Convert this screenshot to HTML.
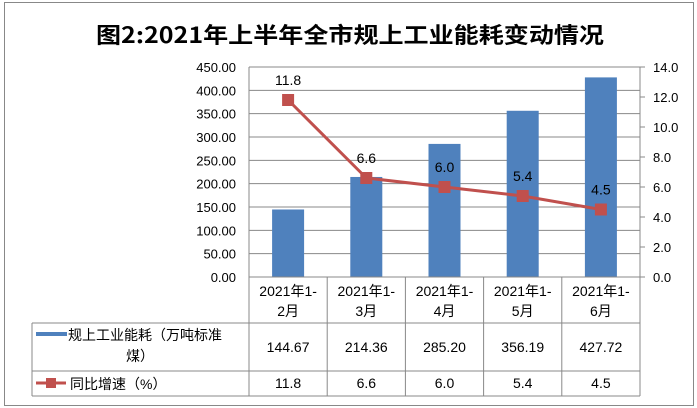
<!DOCTYPE html>
<html><head><meta charset="utf-8"><style>
body{margin:0;background:#fff}
svg{display:block;font-family:"Liberation Sans","Noto Sans CJK SC",sans-serif}
</style></head><body>
<svg id="c" width="697" height="408" viewBox="0 0 697 408">
<rect x="4.5" y="2.5" width="689" height="403" fill="#fff" stroke="#888"/>
<text x="350" y="43" text-anchor="middle" font-size="22" font-weight="bold" textLength="508" lengthAdjust="spacingAndGlyphs" font-family="'Noto Sans CJK SC',sans-serif">图2:2021年上半年全市规上工业能耗变动情况</text>
<g id="g"></g>
</svg>
<script>
const categories=["2021年1-2月","2021年1-3月","2021年1-4月","2021年1-5月","2021年1-6月"];
const catLine1=["2021年1-","2021年1-","2021年1-","2021年1-","2021年1-"];
const catLine2=["2月","3月","4月","5月","6月"];
const energy=[144.67,214.36,285.20,356.19,427.72];
const growth=[11.8,6.6,6.0,5.4,4.5];
const leftTicks=[0,50,100,150,200,250,300,350,400,450];
const rightTicks=[0,2,4,6,8,10,12,14];
const NS="http://www.w3.org/2000/svg",g=document.getElementById('g');
const X0=249,X1=640,Y0=277,Y1=67,cw=(X1-X0)/categories.length;
const yl=v=>Y0-(v/450)*(Y0-Y1), yr=v=>Y0-(v/14)*(Y0-Y1), xc=i=>X0+cw*(i+.5);
function el(t,a,txt){const e=document.createElementNS(NS,t);for(const k in a)e.setAttribute(k,a[k]);if(txt!=null)e.textContent=txt;g.appendChild(e);return e;}
leftTicks.forEach(v=>{
 const l=el('line',{x1:X0,x2:X1,y1:yl(v),y2:yl(v),stroke:'#888'});
 
 const t=el('text',{x:236,y:yl(v)+5,'text-anchor':'end','font-size':13},v.toFixed(2));
 
});
rightTicks.forEach(v=>{
 const l=el('line',{x1:X1,x2:X1+5,y1:yr(v),y2:yr(v),stroke:'#888'});
 
 const t=el('text',{x:653,y:yr(v)+5,'font-size':13},v.toFixed(1));
 
});
const ax=el('line',{x1:X1,x2:X1,y1:Y1,y2:Y0,stroke:'#888'});

const ax2=el('line',{x1:X0,x2:X0,y1:Y1,y2:Y0,stroke:'#888'});

energy.forEach((v,i)=>{
 const r=el('rect',{x:xc(i)-16,y:yl(v),width:32,height:Y0-yl(v),fill:'#4f81bd'});
 
});
const pl=el('polyline',{points:growth.map((v,i)=>xc(i)+','+yr(v)).join(' '),fill:'none',stroke:'#c0504d','stroke-width':3});

growth.forEach((v,i)=>{
 const m=el('rect',{x:xc(i)-6,y:yr(v)-6,width:12,height:12,fill:'#c0504d'});
 
 const t=el('text',{x:xc(i),y:yr(v)-15,'text-anchor':'middle','font-size':14},v.toFixed(1));
 
});
const TL=32,R1=323,R2=371,R3=396;
[[X0,Y0,X0,R3],[X1,Y0,X1,R3],[TL,R1,TL,R3],[TL,R1,X1,R1],[TL,R2,X1,R2],[TL,R3,X1,R3],[X0,Y0,X1,Y0]].forEach(a=>{
 const l=el('line',{x1:a[0],y1:a[1],x2:a[2],y2:a[3],stroke:'#888'});
 
});
categories.forEach((c,i)=>{
 if(i>0){const l=el('line',{x1:X0+cw*i,x2:X0+cw*i,y1:Y0,y2:R3,stroke:'#888'});
 }
 const t1=el('text',{x:xc(i),y:296,'text-anchor':'middle','font-size':14},catLine1[i]);
 
 const t2=el('text',{x:xc(i),y:316,'text-anchor':'middle','font-size':14},catLine2[i]);
 
 const a=el('text',{x:xc(i),y:352,'text-anchor':'middle','font-size':14},energy[i].toFixed(2));
 
 const b=el('text',{x:xc(i),y:388,'text-anchor':'middle','font-size':14},growth[i].toFixed(1));
 
});
const k1=el('rect',{x:36,y:332,width:31,height:4,fill:'#4f81bd'});

const l1=el('text',{x:68,y:340,'font-size':14},'规上工业能耗（万吨标准');

const l1b=el('text',{x:140,y:361,'text-anchor':'middle','font-size':14},'煤）');

const k2=el('line',{x1:36,x2:66,y1:383,y2:383,stroke:'#c0504d','stroke-width':3});

const k3=el('rect',{x:46,y:378,width:10,height:10,fill:'#c0504d'});

const l2=el('text',{x:70,y:389,'font-size':14},'同比增速（%）');

</script>
</body></html>
